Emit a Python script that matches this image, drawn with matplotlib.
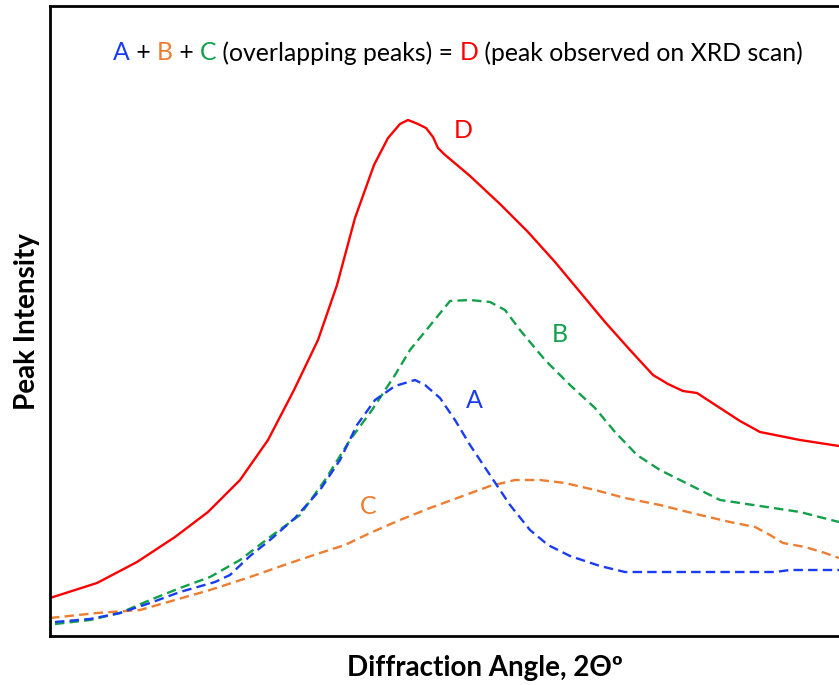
import matplotlib.pyplot as plt

plt.rcParams['font.family'] = ['Lato', 'DejaVu Sans']

# scan positions (arbitrary 2-theta units) and intensities for each curve
d_x = [0, 47, 87, 125, 158, 190, 218, 244, 268, 287, 305, 324, 338, 350, 358, 368, 376, 383, 388, 394,
       420, 450, 478, 505, 530, 555, 580, 603, 618, 633, 647, 670, 690, 710, 750, 789]
d_y = [38, 53, 74, 99, 124, 156, 196, 246, 296, 351, 418, 471, 498, 512, 516, 512, 508, 499, 488, 482,
       460, 432, 404, 374, 344, 314, 286, 261, 252, 245, 243, 228, 215, 204, 196, 190]

b_x = [5, 40, 70, 100, 130, 160, 190, 220, 250, 275, 300, 322, 345, 360, 378, 400, 420, 440, 455, 470,
       495, 520, 545, 565, 587, 610, 640, 670, 710, 750, 789]
b_y = [12, 16, 23, 36, 48, 59, 76, 99, 121, 156, 196, 226, 261, 286, 308, 335, 336, 334, 326, 306,
       276, 251, 228, 204, 181, 166, 151, 136, 130, 124, 114]

a_x = [5, 40, 70, 100, 130, 165, 180, 200, 220, 245, 270, 290, 307, 325, 345, 365, 375, 390, 405, 420,
       440, 460, 480, 498, 520, 550, 575, 650, 725, 740, 789]
a_y = [14, 17, 23, 33, 44, 54, 61, 80, 96, 118, 146, 176, 211, 236, 250, 256, 251, 238, 216, 191,
       161, 131, 106, 91, 80, 70, 64, 64, 64, 66, 66]

c_x = [0, 47, 90, 125, 160, 200, 240, 270, 295, 320, 350, 380, 410, 440, 465, 490, 515, 545, 575, 610,
       650, 680, 705, 720, 733, 755, 775, 789]
c_y = [18, 23, 26, 36, 46, 59, 73, 83, 91, 103, 116, 128, 139, 150, 156, 156, 153, 146, 138, 131,
       121, 114, 109, 101, 93, 89, 83, 78]

curve_labels = ['A', 'B', 'C', 'D']
blue, orange, green, red = '#1a3cf0', '#ed7d31', '#12a04a', '#ff0000'

fig = plt.figure(figsize=(8.39, 6.85), dpi=100)
ax = fig.add_axes([50 / 839, 49 / 685, 800 / 839, 630 / 685])

dash = (0, (4, 2.2))
ax.plot(d_x, d_y, color=red, lw=1.7, solid_joinstyle='round')
ax.plot(c_x, c_y, color=orange, lw=1.7, linestyle=dash)
ax.plot(b_x, b_y, color=green, lw=1.7, linestyle=dash)
ax.plot(a_x, a_y, color=blue, lw=1.7, linestyle=dash)

ax.set_xlim(0, 800)
ax.set_ylim(0, 630)
ax.set_xticks([])
ax.set_yticks([])
for s in ax.spines.values():
    s.set_linewidth(2)

# curve letters next to each peak
ax.text(413, 505, 'D', color=red, fontsize=18, ha='center', va='center')
ax.text(510, 301, 'B', color=green, fontsize=18, ha='center', va='center')
ax.text(424, 235, 'A', color=blue, fontsize=18, ha='center', va='center')
ax.text(318, 129, 'C', color=orange, fontsize=18, ha='center', va='center')

fig.text(27 / 839, 1 - 322 / 685, 'Peak Intensity', rotation=90, fontsize=20,
         fontweight='bold', ha='center', va='center')
fig.text(485 / 839, 1 - 668 / 685, 'Diffraction Angle, 2\u0398\u00ba', fontsize=20,
         fontweight='bold', ha='center', va='center')

# multicoloured heading built from pieces placed side by side
pieces = [('A', blue), (' + ', 'black'), ('B', orange), (' + ', 'black'), ('C', green),
          (' (overlapping peaks) = ', 'black'), ('D', red), (' (peak observed on XRD scan)', 'black')]
renderer = fig.canvas.get_renderer()
texts = []
x = 0
for s, c in pieces:
    t = fig.text(x, 0, s, color=c, fontsize=17.8, ha='left', va='center')
    w = t.get_window_extent(renderer).width
    texts.append((t, x))
    x += w
left = 458 - x / 2
for t, off in texts:
    t.set_position(((left + off) / 839, 1 - 53 / 685))

fig.savefig('out.png', dpi=100)
